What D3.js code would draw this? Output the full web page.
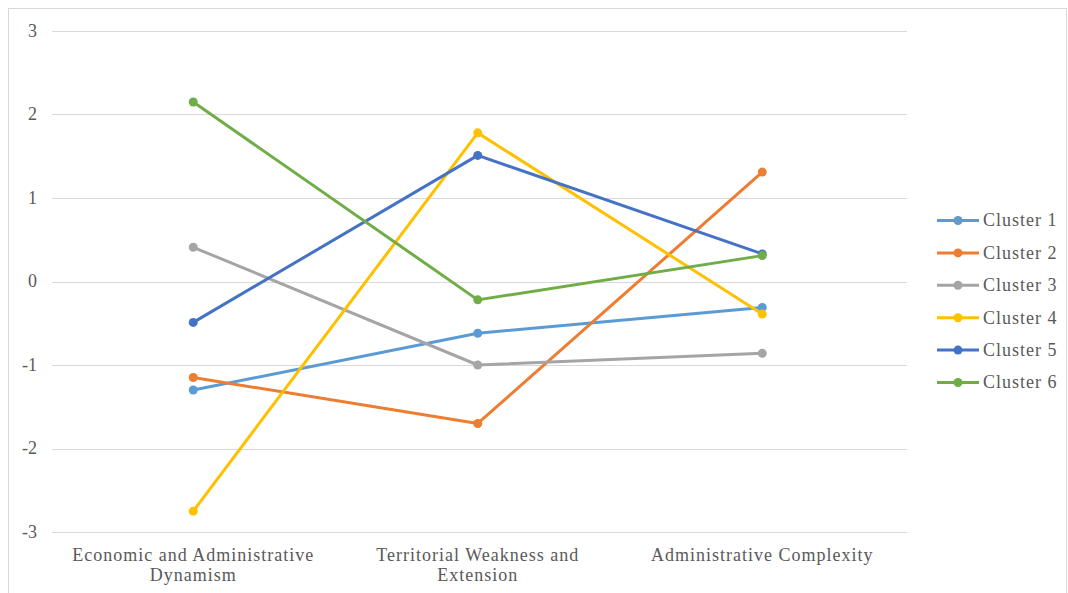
<!DOCTYPE html>
<html>
<head>
<meta charset="utf-8">
<script src="https://cdn.jsdelivr.net/npm/d3@7"></script>
<style>
  body { margin: 0; background: #fff; }
  svg text { font-family: "Liberation Serif", serif; }
</style>
</head>
<body>
<svg id="chart" width="1068" height="593"></svg>
<script>
// Factor dimensions along the x axis
const categories = [
  ["Economic and Administrative", "Dynamism"],
  ["Territorial Weakness and", "Extension"],
  ["Administrative Complexity"]
];
const categoryKeys = ["econ", "terr", "admin"];

// Mean factor scores for each cluster
const cluster1 = [-1.30, -0.62, -0.31];
const cluster2 = [-1.15, -1.70, 1.31];
const cluster3 = [0.41, -1.00, -0.86];
const cluster4 = [-2.75, 1.78, -0.39];
const cluster5 = [-0.49, 1.51, 0.33];
const cluster6 = [2.15, -0.22, 0.31];

const seriesNames = ["Cluster 1", "Cluster 2", "Cluster 3", "Cluster 4", "Cluster 5", "Cluster 6"];
const seriesValues = [cluster1, cluster2, cluster3, cluster4, cluster5, cluster6];
const seriesColors = ["#5B9BD5", "#ED7D31", "#A5A5A5", "#FFC000", "#4472C4", "#70AD47"];

const yTicks = [-3, -2, -1, 0, 1, 2, 3];

const FONT = "'Liberation Serif', serif";
const TEXT_COLOR = "#595959";
const svg = d3.select("#chart");

// chart area frame
svg.append("rect")
  .attr("x", 8.5).attr("y", 8.5)
  .attr("width", 1058).attr("height", 586)
  .attr("fill", "none").attr("stroke", "#d9d9d9").attr("stroke-width", 1);

const plot = { left: 52, right: 907, top: 31, bottom: 532 };

const x = d3.scaleBand().domain(categoryKeys).range([51, 904.5]);
const y = d3.scaleLinear().domain([-3, 3]).range([plot.bottom, plot.top]);

// horizontal gridlines
svg.append("g").selectAll("line").data(yTicks).join("line")
  .attr("x1", plot.left).attr("x2", plot.right)
  .attr("y1", d => Math.round(y(d)) + 0.5).attr("y2", d => Math.round(y(d)) + 0.5)
  .attr("stroke", "#d9d9d9").attr("stroke-width", 1);

// y axis tick labels (plain hyphen for negatives)
const yAxis = d3.axisLeft(y).tickValues(yTicks).tickSize(0).tickPadding(0).tickFormat(d => String(d));
const yg = svg.append("g").attr("transform", `translate(${37},0)`).call(yAxis);
yg.attr("font-family", null).attr("font-size", null);
yg.select(".domain").remove();
yg.selectAll("text")
  .attr("fill", TEXT_COLOR)
  .attr("dy", "0.3em")
  .style("font-family", FONT)
  .style("font-size", "18px");

// category labels (wrapped onto two lines)
const cx = svg.append("g");
categories.forEach((lines, i) => {
  const t = cx.append("text")
    .attr("x", x(categoryKeys[i]) + x.bandwidth() / 2)
    .attr("y", 561)
    .attr("text-anchor", "middle")
    .attr("fill", TEXT_COLOR)
    .style("font-family", FONT)
    .style("font-size", "18px")
    .style("letter-spacing", "1px");
  lines.forEach((ln, j) => {
    t.append("tspan")
      .attr("x", x(categoryKeys[i]) + x.bandwidth() / 2)
      .attr("dy", j === 0 ? 0 : 20)
      .text(ln);
  });
});

const px = (i) => x(categoryKeys[i]) + x.bandwidth() / 2;
const line = d3.line().x((d, i) => px(i)).y(d => y(d));

// series lines with markers
seriesValues.forEach((vals, s) => {
  const g = svg.append("g");
  g.append("path")
    .datum(vals)
    .attr("d", line)
    .attr("fill", "none")
    .attr("stroke", seriesColors[s])
    .attr("stroke-width", 3)
    .attr("stroke-linejoin", "round")
    .attr("stroke-linecap", "round");
  g.selectAll("circle").data(vals).join("circle")
    .attr("cx", (d, i) => px(i))
    .attr("cy", d => y(d))
    .attr("r", 4.5)
    .attr("fill", seriesColors[s]);
});

// legend
const legend = svg.append("g");
seriesNames.forEach((name, s) => {
  const ly = 220.5 + s * 32.4;
  const row = legend.append("g").attr("transform", `translate(0,${ly})`);
  row.append("line")
    .attr("x1", 937).attr("x2", 979).attr("y1", 0).attr("y2", 0)
    .attr("stroke", seriesColors[s]).attr("stroke-width", 3);
  row.append("circle").attr("cx", 958).attr("cy", 0).attr("r", 4.5).attr("fill", seriesColors[s]);
  row.append("text")
    .attr("x", 983).attr("y", 0).attr("dy", "0.33em")
    .attr("fill", TEXT_COLOR)
    .style("font-family", FONT)
    .style("font-size", "18px")
    .style("letter-spacing", "1px")
    .text(name);
});
</script>
</body>
</html>
